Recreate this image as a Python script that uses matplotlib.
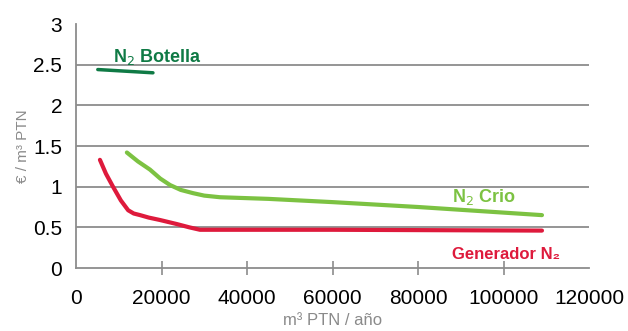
import matplotlib.pyplot as plt

plt.rcParams['font.family'] = ['Liberation Sans', 'DejaVu Sans']

# data
gen_x = [5600, 7000, 8650, 10500, 12200, 13500, 15000, 17000, 19650, 23600, 26500, 29000, 60000, 109000]
gen_y = [1.33, 1.16, 1.00, 0.83, 0.71, 0.67, 0.65, 0.62, 0.59, 0.54, 0.50, 0.47, 0.47, 0.46]

crio_x = [11900, 14500, 17300, 19700, 22000, 24500, 27400, 30000, 33700, 45000, 60000, 80000, 109000]
crio_y = [1.42, 1.31, 1.21, 1.10, 1.02, 0.96, 0.92, 0.89, 0.87, 0.85, 0.81, 0.75, 0.65]

bot_x = [5100, 18000]
bot_y = [2.44, 2.40]

xticks = [0, 20000, 40000, 60000, 80000, 100000, 120000]
yticks = [0, 0.5, 1, 1.5, 2, 2.5, 3]

red = '#de1a3c'
lgreen = '#7cc242'
dgreen = '#0f7a45'
grey = '#8c8c8c'

fig = plt.figure(figsize=(6.28, 3.31), dpi=100)
ax = fig.add_axes([76 / 628, 1 - 268 / 331, (589 - 76) / 628, (268 - 24) / 331])

for yv in yticks[1:-1]:
    ax.axhline(yv, color=grey, lw=1.3, zorder=1)

ax.plot(bot_x, bot_y, color=dgreen, lw=2.5, solid_capstyle='round', zorder=3)
ax.plot(crio_x, crio_y, color=lgreen, lw=3, solid_capstyle='round', solid_joinstyle='round', zorder=3)
ax.plot(gen_x, gen_y, color=red, lw=3, solid_capstyle='round', solid_joinstyle='round', zorder=3)

ax.text(8600, 2.6, 'N$_2$ Botella', color=dgreen, fontsize=13, fontweight='bold', va='center')
ax.text(88000, 0.87, 'N$_2$ Crio', color=lgreen, fontsize=13, fontweight='bold', va='center')
ax.text(88000, 0.17, 'Generador N₂', color=red, fontsize=12, fontweight='bold', va='center')

ax.set_xlim(0, 120000)
ax.set_ylim(0, 3)
ax.set_xticks(xticks)
ax.set_xticklabels([str(v) for v in xticks])
ax.set_yticks(yticks)
ax.set_yticklabels(['0', '0.5', '1', '1.5', '2', '2.5', '3'])
ax.tick_params(axis='x', direction='inout', length=10, width=1.2, color=grey, labelsize=15, pad=10)
ax.tick_params(axis='y', length=0, labelsize=15, pad=10)
# no tick marks at the two ends of the x axis
xt = ax.xaxis.get_major_ticks()
for t in (xt[0], xt[-1]):
    t.tick1line.set_visible(False)
    t.tick2line.set_visible(False)

for s in ['top', 'right']:
    ax.spines[s].set_visible(False)
for s in ['left', 'bottom']:
    ax.spines[s].set_color(grey)
    ax.spines[s].set_linewidth(1.3)

ax.set_xlabel('m³ PTN / año', color='#8a8a8a', fontsize=12, labelpad=4)
ax.set_ylabel('€ / m³ PTN', color='#8a8a8a', fontsize=11, labelpad=2)

fig.savefig('out.png', dpi=100)
